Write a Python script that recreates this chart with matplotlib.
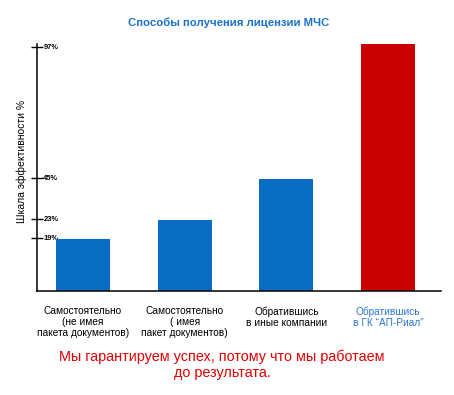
import numpy as np
import matplotlib.pyplot as plt

# ----------------------------------------------------------------
# Data
# ----------------------------------------------------------------
categories = [
  'Самостоятельно\n(не имея\nпакета документов)',
  'Самостоятельно\n( имея\nпакет документов)',
  'Обратившись\nв иные компании',
  'Обратившись\nв ГК “АП-Риал”',
]
bar_heights = [20.9, 28.5, 45.0, 99.2]
tick_values = [21.2, 28.8, 45.3, 97.8]
tick_labels = ['19%', '23%', '45%', '97%']

title = 'Способы получения лицензии МЧС'
ylabel = 'Шкала эффективности %'
slogan = 'Мы гарантируем успех, потому что мы работаем\nдо результата.'

blue = '#0a6dc4'
red = '#c80000'
title_blue = '#1a73cc'
label_blue = '#2a78d0'
slogan_red = '#e00000'

plt.rcParams['font.family'] = ['Liberation Sans', 'DejaVu Sans']

# ----------------------------------------------------------------
# Figure
# ----------------------------------------------------------------
W, H = 454, 395
fig = plt.figure(figsize=(W / 100, H / 100), dpi=100)
ax = fig.add_axes([37 / W, 1 - 291 / H, (441 - 37) / W, (291 - 44) / H])

x = np.arange(len(categories))
colors = [blue, blue, blue, red]
ax.bar(x, bar_heights, width=0.53, color=colors, zorder=2)

ax.set_xlim(-0.452, 3.521)
ax.set_ylim(0, 99.2)

# Spines
for side in ['top', 'right']:
  ax.spines[side].set_visible(False)
ax.spines['left'].set_linewidth(1.1)
ax.spines['bottom'].set_linewidth(1.1)

# Y ticks: crossing marks, labels to the right of the spine
ax.set_yticks(tick_values)
ax.set_yticklabels(tick_labels, fontsize=5.4, fontweight='bold')
ax.tick_params(axis='y', direction='inout', length=8, width=1, pad=-8.5)
for lab in ax.get_yticklabels():
  lab.set_ha('left')
  lab.set_va('center')

# X labels
ax.set_xticks(x)
ax.set_xticklabels(categories, fontsize=7.3, linespacing=1.12)
ax.tick_params(axis='x', length=0, pad=11)
ax.get_xticklabels()[-1].set_color(label_blue)

ax.set_ylabel(ylabel, fontsize=7.5)
ax.yaxis.set_label_coords(-0.024, 0.526)

fig.text(229 / W, 1 - 23 / H, title, ha='center', va='center',
         fontsize=8.2, fontweight='bold', color=title_blue)
fig.text(222 / W, 1 - 365 / H, slogan, ha='center', va='center',
         fontsize=10.4, color=slogan_red, linespacing=1.2)

fig.savefig('out.png', dpi=100)
